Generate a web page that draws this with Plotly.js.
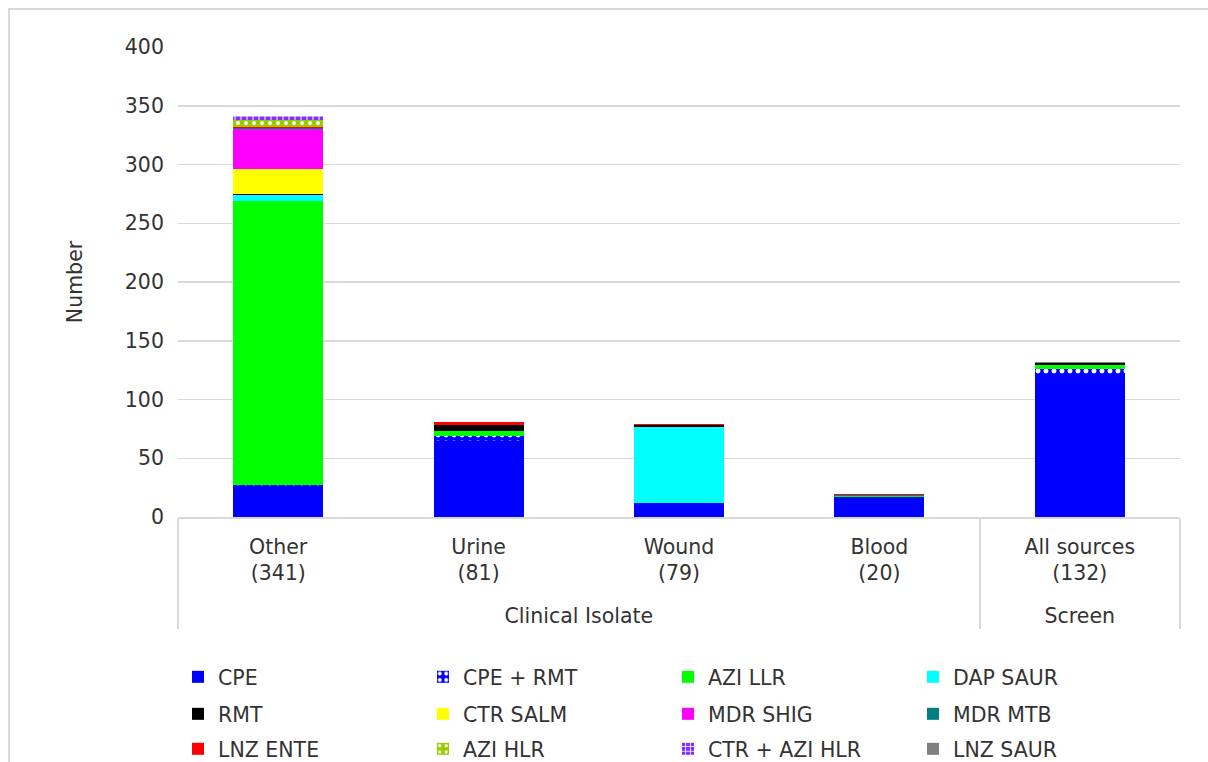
<!DOCTYPE html>
<html><head><meta charset="utf-8">
<script src="https://cdn.plot.ly/plotly-3.0.1.min.js"></script>
<style>
body{margin:0;padding:0;background:#fff;}
#frame{position:absolute;left:8px;top:8px;width:1200px;height:760px;border-top:2px solid #d9d9d9;border-left:2px solid #d9d9d9;}
#chart{position:absolute;left:0;top:0;width:1208px;height:762px;}
</style></head>
<body>
<div id="frame"></div>
<div id="chart"></div>
<script>
const groups = ["Clinical Isolate","Clinical Isolate","Clinical Isolate","Clinical Isolate","Screen"];
const categories = ["Other<br>(341)<br> ","Urine<br>(81)<br> ","Wound<br>(79)<br> ","Blood<br>(20)<br> ","All sources<br>(132)<br> "];

const seriesNames = ["CPE","CPE + RMT","AZI LLR","DAP SAUR","RMT","CTR SALM","MDR SHIG","MDR MTB","LNZ ENTE","AZI HLR","CTR + AZI HLR","LNZ SAUR"];
const CPE          = [26, 65, 11, 17, 120];
const CPE_RMT      = [1, 4, 1, 0, 6];
const AZI_LLR      = [242, 4, 0, 1, 3];
const DAP_SAUR     = [5, 0, 65, 0, 0];
const RMT          = [1, 5, 1, 0, 2];
const CTR_SALM     = [21, 0, 0, 0, 0];
const MDR_SHIG     = [34, 0, 0, 0, 0];
const MDR_MTB      = [1, 0, 0, 1, 0];
const LNZ_ENTE     = [1, 3, 1, 1, 0];
const AZI_HLR      = [6, 0, 0, 0, 0];
const CTR_AZI_HLR  = [3, 0, 0, 0, 0];
const LNZ_SAUR     = [0, 0, 0, 0, 1];

const seriesValues = [CPE, CPE_RMT, AZI_LLR, DAP_SAUR, RMT, CTR_SALM, MDR_SHIG, MDR_MTB, LNZ_ENTE, AZI_HLR, CTR_AZI_HLR, LNZ_SAUR];
const colors = ["#0000FF","#0000FF","#00FF00","#00FFFF","#000000","#FFFF00","#FF00FF","#008080","#FF0000","#99CC00","#7F2FFF","#808080"];
const patterns = [null, {shape:".", fgcolor:"#ffffff", bgcolor:"#0000FF", size:8, solidity:0.3},
  null,null,null,null,null,null,null,
  {shape:".", fgcolor:"#ffffff", bgcolor:"#99CC00", size:8, solidity:0.2},
  {shape:"+", fgcolor:"#ffffff", bgcolor:"#7F2FFF", size:6, solidity:0.3}, null];
const legendIds = ["legend","legend","legend","legend","legend2","legend2","legend2","legend2","legend3","legend3","legend3","legend3"];

const traces = seriesNames.map((n,i)=>{
  const m = {color: colors[i], line:{width:0}};
  if (patterns[i]) m.pattern = patterns[i];
  return {type:"bar", name:n, x:[groups, categories], y:seriesValues[i], marker:m,
          legend:legendIds[i], hoverinfo:"name+y"};
});

const font = {family:"'DejaVu Sans', sans-serif", size:20.5, color:"#333333"};
function leg(y){
  return {orientation:"h", x:0, xanchor:"left", xref:"paper", y:y, yref:"container", yanchor:"middle",
          traceorder:"normal", entrywidth:200, entrywidthmode:"pixels",
          font:font, itemwidth:30, bgcolor:"rgba(0,0,0,0)"};
}
const layout = {
  width:1208, height:762,
  margin:{l:178, r:28, t:47, b:245, autoexpand:false},
  barmode:"stack", bargap:0.55,
  paper_bgcolor:"rgba(0,0,0,0)", plot_bgcolor:"#fff",
  font: font,
  xaxis:{type:"multicategory", showdividers:true, dividercolor:"#d9d9d9", dividerwidth:2,
         showline:true, linecolor:"#d9d9d9", linewidth:2, tickfont:font, ticks:"", ticklabelstandoff:10},
  yaxis:{range:[0,400], dtick:50, gridcolor:"#d9d9d9", gridwidth:1.5, zeroline:false,
         showline:false, tickfont:font, ticklen:0, ticksuffix:"  ",
         title:{text:"Number", font:font, standoff:36}},
  showlegend:true,
  legend:leg((762-677)/762),
  legend2:leg((762-714)/762),
  legend3:leg((762-749)/762)
};
Plotly.newPlot("chart", traces, layout, {displayModeBar:false, staticPlot:true});
</script>
</body></html>
